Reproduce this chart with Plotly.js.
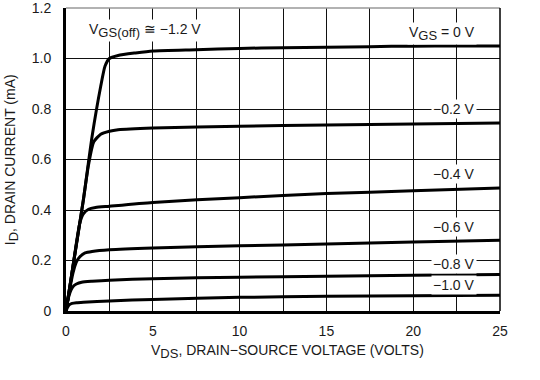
<!DOCTYPE html>
<html>
<head>
<meta charset="utf-8">
<script src="https://cdn.plot.ly/plotly-3.0.1.min.js"></script>
<style>html,body{margin:0;padding:0;background:#fff}#chart{width:540px;height:380px}</style>
</head>
<body>
<div id="chart"></div>
<script>
// Drain characteristics, ID (mA) vs VDS (V)
const SUB = function (t) { return "<sub><span style=\"font-size:13px\">" + t + "</span></sub>"; };
const vgsLabels = ["V" + SUB("GS") + " = 0 V", "\u22120.2 V", "\u22120.4 V", "\u22120.6 V", "\u22120.8 V", "\u22121.0 V"];

const vds0 = [0, 0.5, 1.0, 1.5, 2.0, 2.25, 2.5, 3, 4, 5, 7.5, 10, 12.5, 15, 17.5, 20, 22.5, 25];
const id0  = [0, 0.22, 0.44, 0.69, 0.89, 0.97, 1.0, 1.012, 1.022, 1.03, 1.035, 1.04, 1.043, 1.045, 1.047, 1.049, 1.05, 1.05];

const vds1 = [0, 0.5, 1.0, 1.3, 1.6, 2.0, 2.5, 3, 5, 10, 15, 20, 25];
const id1  = [0, 0.22, 0.44, 0.58, 0.67, 0.70, 0.712, 0.718, 0.725, 0.732, 0.737, 0.741, 0.745];

const vds2 = [0, 0.3, 0.6, 0.8, 1.0, 1.3, 1.7, 2.5, 5, 10, 15, 20, 25];
const id2  = [0, 0.13, 0.27, 0.35, 0.385, 0.403, 0.41, 0.415, 0.43, 0.449, 0.465, 0.476, 0.487];

const vds3 = [0, 0.2, 0.4, 0.6, 0.8, 1.1, 1.5, 2.5, 5, 10, 15, 20, 25];
const id3  = [0, 0.08, 0.15, 0.195, 0.215, 0.23, 0.236, 0.243, 0.25, 0.258, 0.265, 0.273, 0.28];

const vds4 = [0, 0.15, 0.3, 0.45, 0.6, 0.9, 1.5, 2.5, 5, 10, 15, 20, 25];
const id4  = [0, 0.055, 0.085, 0.1, 0.107, 0.114, 0.118, 0.122, 0.128, 0.134, 0.138, 0.142, 0.145];

const vds5 = [0, 0.1, 0.2, 0.35, 0.6, 1.0, 2.5, 5, 10, 15, 20, 25];
const id5  = [0, 0.016, 0.025, 0.03, 0.033, 0.035, 0.04, 0.046, 0.054, 0.058, 0.06, 0.062];

const xTickVals = [0, 2.5, 5, 7.5, 10, 12.5, 15, 17.5, 20, 22.5, 25];
const xTickText = ["0", "", "5", "", "10", "", "15", "", "20", "", "25"];
const yTickVals = [0, 0.2, 0.4, 0.6, 0.8, 1.0, 1.2];
const yTickText = ["0", "0.2", "0.4", "0.6", "0.8", "1.0", "1.2"];

// label positions (data coords, right edge of text)
const labelX = [23.7, 23.7, 23.7, 23.7, 23.7, 23.7];
const labelY = [1.10, 0.80, 0.541, 0.333, 0.188, 0.102];

const series = [[vds0, id0], [vds1, id1], [vds2, id2], [vds3, id3], [vds4, id4], [vds5, id5]];
const traces = series.map(function (s, i) {
  return {
    x: s[0], y: s[1], type: "scatter", mode: "lines",
    line: {color: "#000", width: 3, shape: "spline", smoothing: 0.6},
    name: vgsLabels[i], showlegend: false, hoverinfo: "skip"
  };
});

const font = {family: "Liberation Sans, Arial, sans-serif", size: 14, color: "#1a1a1a"};

const annotations = vgsLabels.map(function (t, i) {
  return {x: labelX[i], y: labelY[i], xref: "x", yref: "y", text: t, showarrow: false,
          font: font, bgcolor: "#fff", borderpad: 1, xanchor: "right", yanchor: "middle"};
});
annotations.push({x: 4.55, y: 1.11, xref: "x", yref: "y",
  text: "V" + SUB("GS(off)") + " \u2245 \u22121.2 V", showarrow: false, font: font,
  bgcolor: "#fff", borderpad: 1, xanchor: "center", yanchor: "middle"});
annotations.push({x: 0.51, y: -0.135, xref: "paper", yref: "paper",
  text: "V" + SUB("DS") + ", DRAIN\u2212SOURCE VOLTAGE (VOLTS)", showarrow: false, font: font,
  xanchor: "center", yanchor: "middle"});
annotations.push({x: -0.125, y: 0.5, xref: "paper", yref: "paper", textangle: -90,
  text: "I" + SUB("D") + ", DRAIN CURRENT (mA)", showarrow: false, font: font,
  xanchor: "center", yanchor: "middle"});

const layout = {
  width: 540, height: 380,
  margin: {l: 66, r: 40, t: 8, b: 69},
  paper_bgcolor: "#fff", plot_bgcolor: "#fff",
  font: font,
  showlegend: false,
  xaxis: {
    range: [0, 25], tickvals: xTickVals, ticktext: xTickText,
    showgrid: true, gridcolor: "#111", gridwidth: 1,
    zeroline: false, showline: true, linecolor: "#000", linewidth: 3,
    ticks: "outside", ticklen: 5, tickcolor: "rgba(0,0,0,0)",
    tickfont: font, fixedrange: true
  },
  yaxis: {
    range: [0, 1.2], tickvals: yTickVals, ticktext: yTickText,
    showgrid: true, gridcolor: "#111", gridwidth: 1,
    zeroline: false, showline: true, linecolor: "#000", linewidth: 3,
    ticks: "outside", ticklen: 9, tickcolor: "rgba(0,0,0,0)",
    ticklabeloverflow: "allow",
    tickfont: font, fixedrange: true
  },
  shapes: [
    {type: "line", xref: "paper", yref: "paper", x0: 0, x1: 1, y0: 1, y1: 1, line: {color: "#999", width: 1.5}},
    {type: "line", xref: "paper", yref: "paper", x0: 1, x1: 1, y0: 0, y1: 1, line: {color: "#000", width: 1.5}}
  ],
  annotations: annotations
};

Plotly.newPlot("chart", traces, layout, {displayModeBar: false, staticPlot: true});
</script>
</body>
</html>
